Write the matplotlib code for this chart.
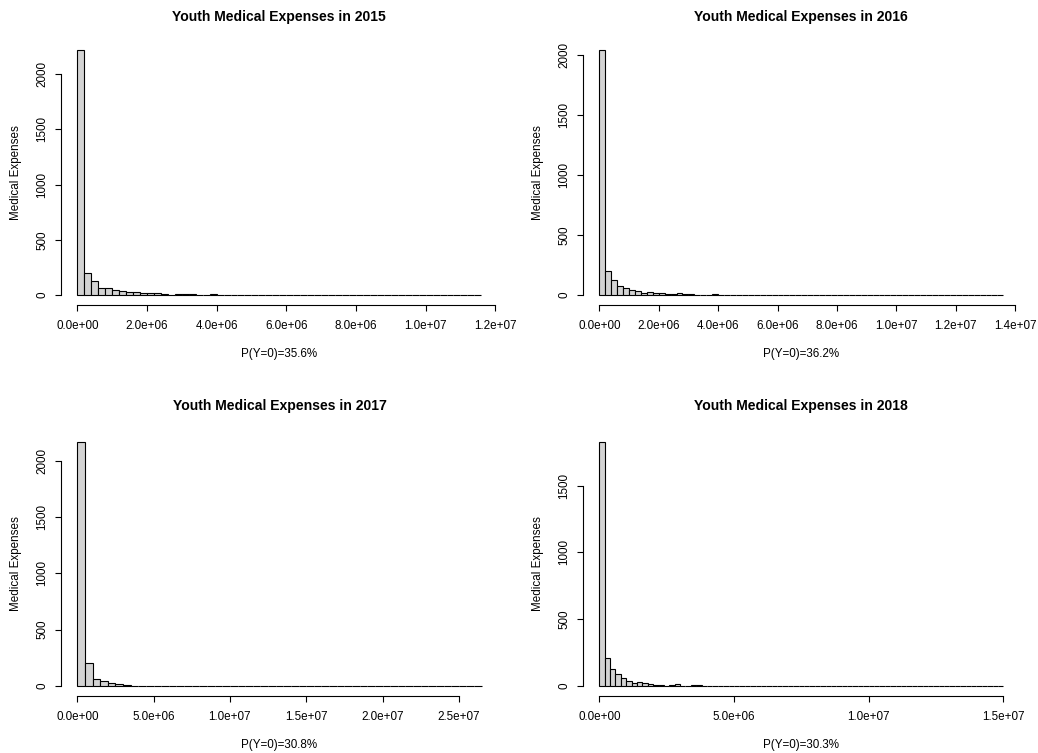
import matplotlib
matplotlib.use("Agg")
import matplotlib.pyplot as plt

plt.rcParams['font.family'] = ['Liberation Sans', 'DejaVu Sans']

# ---------------- data ----------------
years = ["2015", "2016", "2017", "2018"]
zero_share = ["35.6%", "36.2%", "30.8%", "30.3%"]
bin_widths = [2e5, 2e5, 5e5, 2e5]

counts_2015 = [2216, 202, 127, 63, 63, 48, 39, 30, 30, 21, 21, 18, 10, 4, 8, 8, 8, 2, 2, 8] + [0] * 37 + [1]
counts_2016 = [2039, 203, 125, 75, 58, 44, 36, 17, 22, 17, 17, 8, 8, 17, 11, 11, 3, 2, 0, 11] + [0] * 47 + [1]
counts_2017 = [2170, 204, 65, 41, 30, 15, 6, 3, 3, 3, 3] + [0] * 41 + [1]
counts_2018 = [1829, 212, 127, 87, 60, 37, 22, 27, 22, 17, 5, 5, 2, 7, 12, 0, 0, 5, 5] + [0] * 55 + [1]
all_counts = [counts_2015, counts_2016, counts_2017, counts_2018]

xticks = [
    [0, 2e6, 4e6, 6e6, 8e6, 1e7, 1.2e7],
    [0, 2e6, 4e6, 6e6, 8e6, 1e7, 1.2e7, 1.4e7],
    [0, 5e6, 1e7, 1.5e7, 2e7, 2.5e7],
    [0, 5e6, 1e7, 1.5e7],
]
xticklabels = [
    ["0.0e+00", "2.0e+06", "4.0e+06", "6.0e+06", "8.0e+06", "1.0e+07", "1.2e+07"],
    ["0.0e+00", "2.0e+06", "4.0e+06", "6.0e+06", "8.0e+06", "1.0e+07", "1.2e+07", "1.4e+07"],
    ["0.0e+00", "5.0e+06", "1.0e+07", "1.5e+07", "2.0e+07", "2.5e+07"],
    ["0.0e+00", "5.0e+06", "1.0e+07", "1.5e+07"],
]
yticks = [
    [0, 500, 1000, 1500, 2000],
    [0, 500, 1000, 1500, 2000],
    [0, 500, 1000, 1500, 2000],
    [0, 500, 1000, 1500],
]

# ---------------- layout ----------------
W, H = 1038, 753
DPI = 100
fig = plt.figure(figsize=(W / DPI, H / DPI), dpi=DPI)

# plot regions in pixels: (left, top, right, bottom)
regions = [
    (61.1, 40.5, 497.5, 304.8),
    (583.1, 40.5, 1019.5, 304.8),
    (61.1, 431.9, 497.9, 695.8),
    (583.1, 431.9, 1019.5, 695.8),
]
title_y = [17, 17, 406, 406]
xlab_y = [354, 354, 745, 745]
ylab_x = [16, 538, 16, 538]

FS = 8.4        # tick / label font size (pt)
FS_T = 10.1     # title font size

for k in range(4):
    l, t, r, b = regions[k]
    ax = fig.add_axes([l / W, 1 - b / H, (r - l) / W, (b - t) / H])
    counts = all_counts[k]
    bw = bin_widths[k]
    edges = [i * bw for i in range(len(counts) + 1)]
    ax.bar(edges[:-1], counts, width=bw, align='edge',
           color='#D3D3D3', edgecolor='black', linewidth=0.8)
    xmax = edges[-1]
    ymax = max(counts)
    ax.set_xlim(-0.04 * xmax, 1.04 * xmax)
    ax.set_ylim(-0.04 * ymax, 1.04 * ymax)

    for s in ['top', 'right']:
        ax.spines[s].set_visible(False)
    ax.spines['bottom'].set_bounds(xticks[k][0], xticks[k][-1])
    ax.spines['left'].set_bounds(yticks[k][0], yticks[k][-1])
    for s in ['bottom', 'left']:
        ax.spines[s].set_linewidth(0.8)

    ax.set_xticks(xticks[k])
    ax.set_xticklabels(xticklabels[k], fontsize=FS)
    ax.set_yticks(yticks[k])
    ax.set_yticklabels([str(v) for v in yticks[k]], fontsize=FS,
                       rotation=90, va='center')
    ax.tick_params(axis='both', direction='out', length=4.5, width=0.8)
    ax.tick_params(axis='x', pad=6.5)
    ax.tick_params(axis='y', pad=4.5)

    cx = (l + r) / 2
    cy = (t + b) / 2
    fig.text(cx / W, 1 - title_y[k] / H,
             "Youth Medical Expenses in " + years[k],
             ha='center', va='center', fontsize=FS_T, fontweight='bold')
    fig.text(cx / W, 1 - xlab_y[k] / H, "P(Y=0)=" + zero_share[k],
             ha='center', va='center', fontsize=FS)
    fig.text(ylab_x[k] / W, 1 - cy / H, "Medical Expenses",
             ha='center', va='center', fontsize=FS, rotation=90)

fig.savefig("out.png", dpi=DPI)
